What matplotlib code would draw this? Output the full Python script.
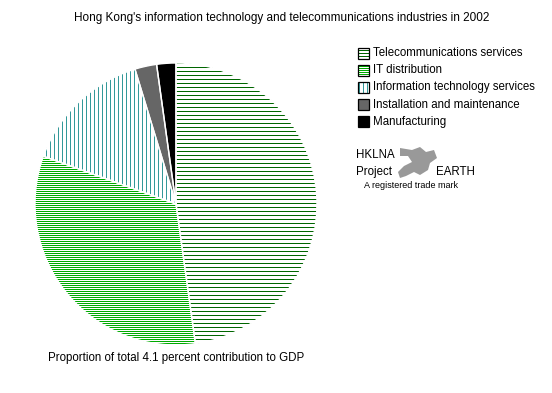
import numpy as np
import matplotlib.pyplot as plt
from matplotlib.collections import LineCollection
from matplotlib.patches import Wedge, Rectangle, Polygon
from matplotlib.transforms import IdentityTransform

# Hong Kong IT & telecom industries, 2002 (share of 4.1% GDP contribution)
categories = ['Telecommunications services', 'IT distribution',
              'Information technology services', 'Installation and maintenance',
              'Manufacturing']
shares = [47.8, 32.7, 14.8, 2.5, 2.2]

colors = ['#006600', '#00aa00', '#339999', '#666666', '#000000']
# (direction, pixel spacing) of the line fill, None = solid
fills = [('h', 4), ('h', 2), ('v', 4), None, None]

plt.rcParams['font.family'] = ['Liberation Sans', 'DejaVu Sans']

W, H = 552, 393
fig = plt.figure(figsize=(W / 100, H / 100), dpi=100)
px = IdentityTransform()


def line_fill(x0, y0, x1, y1, kind, step, col, clip):
    # pixel-aligned lines in display coords (origin bottom-left)
    if kind == 'h':
        ys = np.arange(np.floor(y0), y1 + 1, step) + 0.5
        segs = [[(x0, y), (x1, y)] for y in ys]
    else:
        xs = np.arange(np.floor(x0), x1 + 1, step) + 0.5
        segs = [[(x, y0), (x, y1)] for x in xs]
    lc = LineCollection(segs, transform=px)
    lc.set_color(col)
    lc.set_linewidth(0.72)
    lc.set_antialiased(False)
    fig.add_artist(lc)
    lc.set_clip_path(clip)
    return lc


cx, cy, r = 176, 204, 141
ax = fig.add_axes([(cx - r) / W, (H - cy - r) / H, 2 * r / W, 2 * r / H])
ax.set_xlim(-1, 1)
ax.set_ylim(-1, 1)
ax.set_aspect('equal')
ax.axis('off')

# slices clockwise from 12 o'clock
angle = 90.0
for val, col, f in zip(shares, colors, fills):
    span = val / sum(shares) * 360
    t1, t2 = angle - span, angle
    if f:
        w = Wedge((0, 0), 1, t1, t2, facecolor='white', linewidth=0)
        ax.add_patch(w)
        line_fill(cx - r - 2, H - cy - r - 2, cx + r + 2, H - cy + r + 2,
                  f[0], f[1], col, w)
    else:
        ax.add_patch(Wedge((0, 0), 1, t1, t2, facecolor=col, linewidth=0))
    angle = t1

angle = 90.0
for val in shares:
    span = val / sum(shares) * 360
    edge = Wedge((0, 0), 1, angle - span, angle, fill=False,
                 edgecolor='white', linewidth=1.0, transform=ax.transData)
    edge.set_zorder(3)
    fig.add_artist(edge)
    angle -= span

fig.text(281.5 / W, 1 - 18 / H,
         "Hong Kong's information technology and telecommunications industries in 2002",
         ha='center', va='center', fontsize=8.5)
fig.text(176 / W, 1 - 358 / H,
         'Proportion of total 4.1 percent contribution to GDP',
         ha='center', va='center', fontsize=8.3)

# legend
for i, (lab, col, f) in enumerate(zip(categories, colors, fills)):
    y = 53 + i * 17.2
    bx, bs = 358, 11
    by = round(H - (y + 5.5))  # bottom edge in display pixels
    if f:
        rect = Rectangle((bx, by), bs, bs, transform=px, facecolor='white',
                         linewidth=0)
        fig.add_artist(rect)
        step = 3 if f == ('h', 4) else f[1]
        line_fill(bx, by, bx + bs, by + bs, f[0], step, col, rect)
    else:
        fig.add_artist(Rectangle((bx, by), bs, bs, transform=px, facecolor=col,
                                 linewidth=0))
    box = Rectangle((bx, by), bs, bs, transform=px, fill=False,
                    edgecolor='black', linewidth=0.9)
    box.set_zorder(3)
    fig.add_artist(box)
    fig.text(373 / W, 1 - y / H, lab, ha='left', va='center', fontsize=8.3)

# logo
fig.text(356 / W, 1 - 155 / H, 'HKLNA', ha='left', va='center', fontsize=8.3)
fig.text(356 / W, 1 - 172 / H, 'Project', ha='left', va='center', fontsize=8.3)
fig.text(436 / W, 1 - 172 / H, 'EARTH', ha='left', va='center', fontsize=8.3)
fig.text(364 / W, 1 - 186 / H, 'A registered trade mark', ha='left',
         va='center', fontsize=6.5)
blob = [(400, 148), (412, 150), (420, 147), (426, 152), (434, 150), (437, 158),
        (430, 163), (428, 170), (420, 175), (414, 172), (406, 176), (400, 178),
        (398, 172), (404, 166), (412, 162), (408, 156), (400, 156)]
fig.add_artist(Polygon([(x / W, 1 - y / H) for x, y in blob],
                       transform=fig.transFigure, facecolor='#999999',
                       edgecolor='none'))

fig.savefig('out.png', dpi=100)
